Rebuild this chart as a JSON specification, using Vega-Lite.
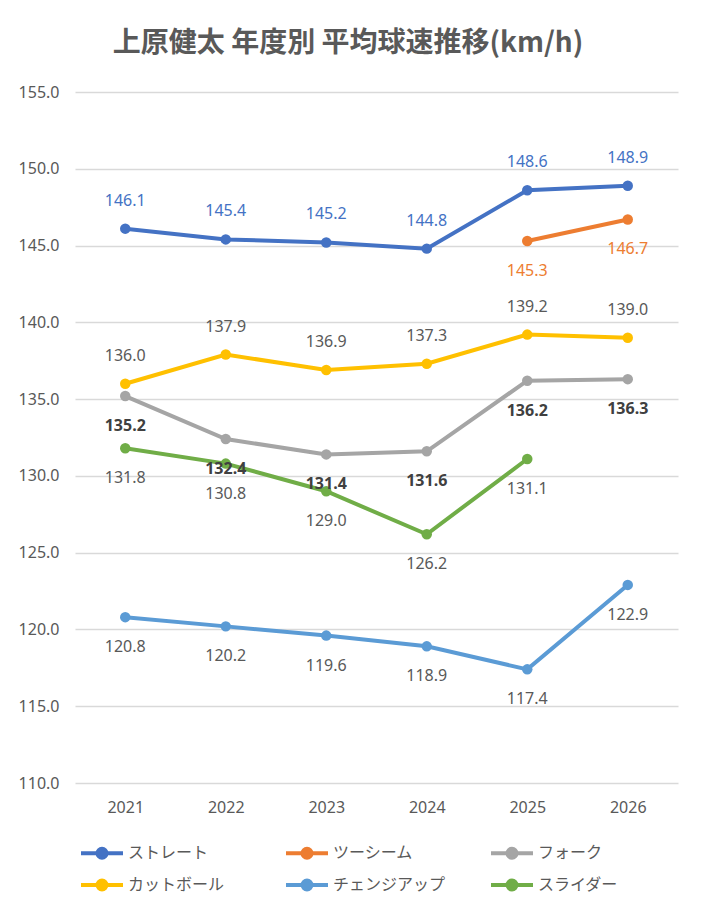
{
  "$schema": "https://vega.github.io/schema/vega-lite/v6.json",
  "width": 603,
  "height": 691,
  "padding": {"left": 18, "top": 30, "right": 24, "bottom": 10},
  "background": "white",
  "title": {
    "text": "上原健太 年度別 平均球速推移(km/h)",
    "font": "Noto Sans CJK JP",
    "fontSize": 28,
    "fontWeight": "bold",
    "color": "#595959",
    "anchor": "middle",
    "frame": "bounds",
    "offset": 26
  },
  "data": {
    "values": [
      {"year": "2021", "pitch": "ストレート", "v": 146.1},
      {"year": "2022", "pitch": "ストレート", "v": 145.4},
      {"year": "2023", "pitch": "ストレート", "v": 145.2},
      {"year": "2024", "pitch": "ストレート", "v": 144.8},
      {"year": "2025", "pitch": "ストレート", "v": 148.6},
      {"year": "2026", "pitch": "ストレート", "v": 148.9},
      {"year": "2025", "pitch": "ツーシーム", "v": 145.3},
      {"year": "2026", "pitch": "ツーシーム", "v": 146.7},
      {"year": "2021", "pitch": "フォーク", "v": 135.2},
      {"year": "2022", "pitch": "フォーク", "v": 132.4},
      {"year": "2023", "pitch": "フォーク", "v": 131.4},
      {"year": "2024", "pitch": "フォーク", "v": 131.6},
      {"year": "2025", "pitch": "フォーク", "v": 136.2},
      {"year": "2026", "pitch": "フォーク", "v": 136.3},
      {"year": "2021", "pitch": "カットボール", "v": 136.0},
      {"year": "2022", "pitch": "カットボール", "v": 137.9},
      {"year": "2023", "pitch": "カットボール", "v": 136.9},
      {"year": "2024", "pitch": "カットボール", "v": 137.3},
      {"year": "2025", "pitch": "カットボール", "v": 139.2},
      {"year": "2026", "pitch": "カットボール", "v": 139.0},
      {"year": "2021", "pitch": "チェンジアップ", "v": 120.8},
      {"year": "2022", "pitch": "チェンジアップ", "v": 120.2},
      {"year": "2023", "pitch": "チェンジアップ", "v": 119.6},
      {"year": "2024", "pitch": "チェンジアップ", "v": 118.9},
      {"year": "2025", "pitch": "チェンジアップ", "v": 117.4},
      {"year": "2026", "pitch": "チェンジアップ", "v": 122.9},
      {"year": "2021", "pitch": "スライダー", "v": 131.8},
      {"year": "2022", "pitch": "スライダー", "v": 130.8},
      {"year": "2023", "pitch": "スライダー", "v": 129.0},
      {"year": "2024", "pitch": "スライダー", "v": 126.2},
      {"year": "2025", "pitch": "スライダー", "v": 131.1}
    ]
  },
  "encoding": {
    "x": {
      "field": "year",
      "type": "ordinal",
      "title": null,
      "axis": {"labelAngle": 0, "labelPadding": 16, "ticks": false, "domain": false}
    },
    "y": {
      "field": "v",
      "type": "quantitative",
      "title": null,
      "scale": {"domain": [110, 155], "zero": false, "nice": false},
      "axis": {"values": [110, 115, 120, 125, 130, 135, 140, 145, 150, 155], "format": ".1f", "labelPadding": 16, "ticks": false, "domain": false, "grid": true}
    }
  },
  "layer": [
    {
      "mark": {"type": "line", "strokeWidth": 4, "point": {"size": 110, "filled": true}},
      "encoding": {
        "color": {
          "field": "pitch",
          "type": "nominal",
          "title": null,
          "scale": {
            "domain": ["ストレート", "ツーシーム", "フォーク", "カットボール", "チェンジアップ", "スライダー"],
            "range": ["#4472C4", "#ED7D31", "#A5A5A5", "#FFC000", "#5B9BD5", "#70AD47"]
          },
          "legend": {
            "orient": "none",
            "legendX": 10,
            "legendY": 744,
            "direction": "horizontal",
            "columns": 3,
            "gridAlign": "all",
            "columnPadding": 37,
            "rowPadding": 2,
            "symbolType": "M-1.4,0L1.4,0M-0.3,0A0.3,0.3,0,1,0,0.3,0A0.3,0.3,0,1,0,-0.3,0Z",
            "symbolSize": 900,
            "symbolStrokeWidth": 4,
            "labelOffset": 9,
            "labelFont": "Noto Sans CJK JP",
            "labelFontSize": 16,
            "labelColor": "#595959",
            "encode": {"symbols": {"update": {"fill": {"scale": "color", "field": "value"}, "stroke": {"scale": "color", "field": "value"}, "opacity": {"value": 1}}}}
          }
        }
      }
    },
    {
      "transform": [{"filter": "datum.pitch == 'ストレート'"}],
      "mark": {"type": "text", "dy": -28, "color": "#4472C4", "font": "Noto Sans", "fontSize": 16},
      "encoding": {"text": {"field": "v", "type": "quantitative", "format": ".1f"}}
    },
    {
      "transform": [{"filter": "datum.pitch == 'ツーシーム'"}],
      "mark": {"type": "text", "dy": 30, "color": "#ED7D31", "font": "Noto Sans", "fontSize": 16},
      "encoding": {"text": {"field": "v", "type": "quantitative", "format": ".1f"}}
    },
    {
      "transform": [{"filter": "datum.pitch == 'カットボール'"}],
      "mark": {"type": "text", "dy": -28, "color": "#595959", "font": "Noto Sans", "fontSize": 16},
      "encoding": {"text": {"field": "v", "type": "quantitative", "format": ".1f"}}
    },
    {
      "transform": [{"filter": "datum.pitch == 'フォーク'"}],
      "mark": {"type": "text", "dy": 30, "color": "#404040", "font": "Noto Sans", "fontSize": 16, "fontWeight": "bold"},
      "encoding": {"text": {"field": "v", "type": "quantitative", "format": ".1f"}}
    },
    {
      "transform": [{"filter": "datum.pitch == 'チェンジアップ' || datum.pitch == 'スライダー'"}],
      "mark": {"type": "text", "dy": 30, "color": "#595959", "font": "Noto Sans", "fontSize": 16},
      "encoding": {"text": {"field": "v", "type": "quantitative", "format": ".1f"}}
    }
  ],
  "config": {
    "view": {"stroke": null},
    "axis": {"labelFont": "Noto Sans", "labelFontSize": 16, "labelColor": "#595959", "gridColor": "#D9D9D9", "gridWidth": 1.5}
  }
}
